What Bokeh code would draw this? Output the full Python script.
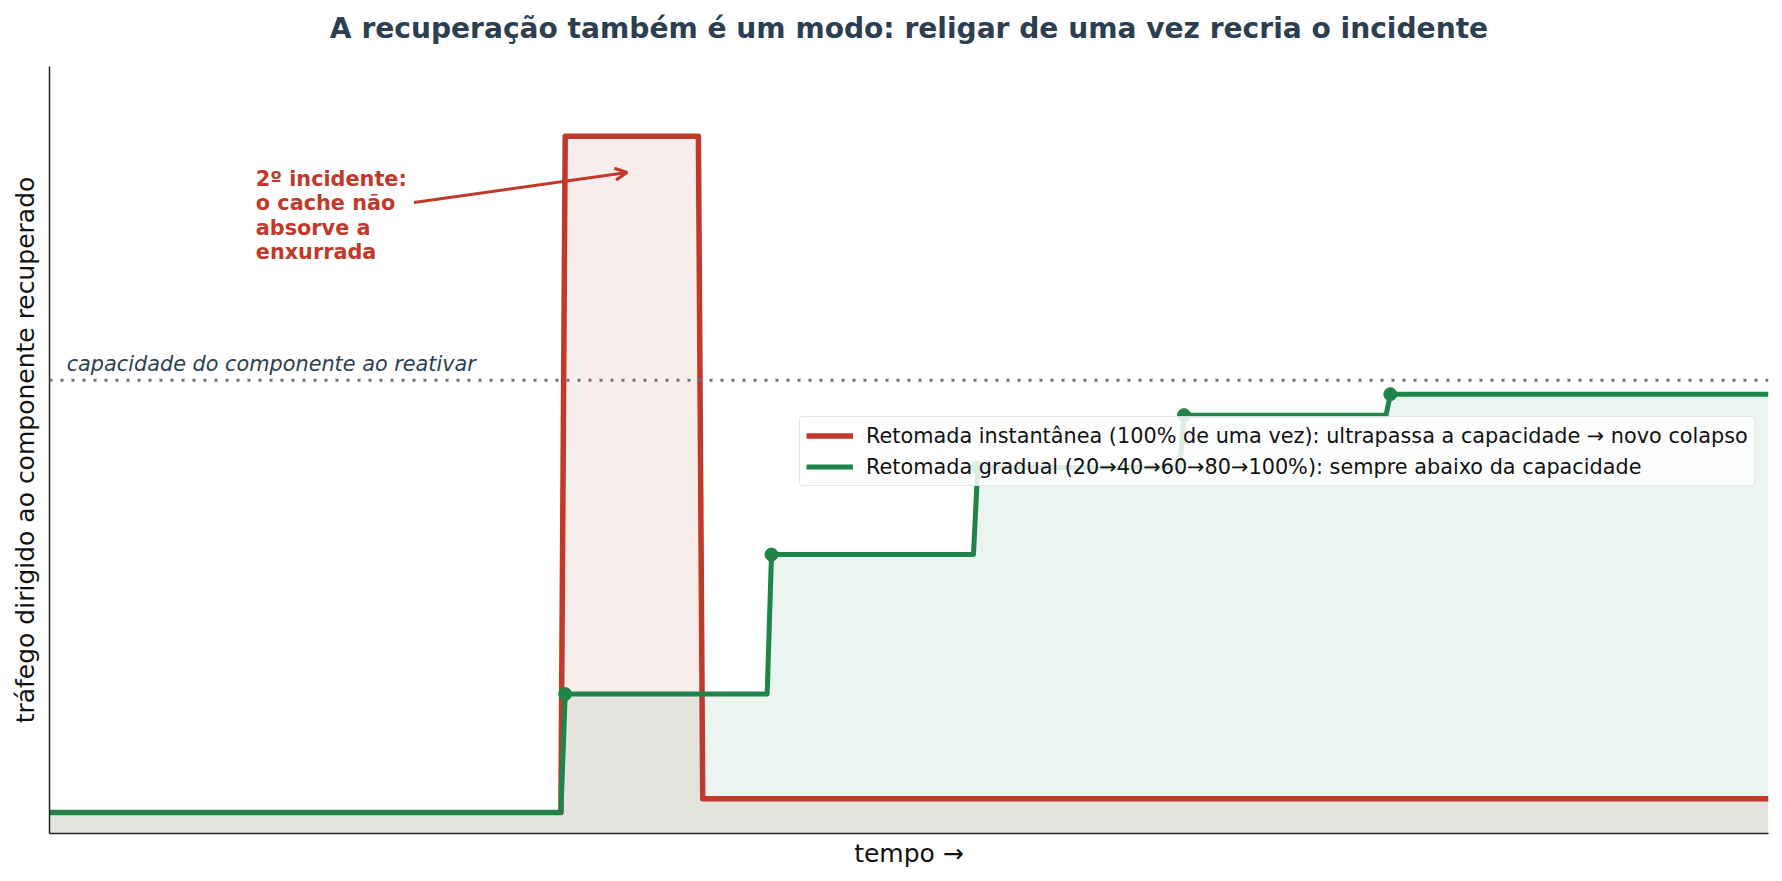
import numpy as np
from bokeh.plotting import figure
from bokeh.models import (Range1d, Label, Arrow, OpenHead, Legend, LegendItem, Span,
                          FixedTicker, LinearAxis)
from bokeh.embed import file_html
from bokeh.resources import INLINE

# ---------------- data ----------------
T_END = 100
RED_TIMES = [0, 30, 38]
RED_LEVELS = [3, 100, 5]
GREEN_TIMES = [0, 30, 42, 54, 66, 78]
GREEN_LEVELS = [3, 20, 40, 52.5, 60, 63]
CAPACITY = 65
SAMPLE_STEP = 0.25

TITLE = "A recuperação também é um modo: religar de uma vez recria o incidente"
XLABEL = "tempo →"
YLABEL = "tráfego dirigido ao componente recuperado"
CAP_LABEL = "capacidade do componente ao reativar"
RED_LABEL = "Retomada instantânea (100% de uma vez): ultrapassa a capacidade → novo colapso"
GREEN_LABEL = "Retomada gradual (20→40→60→80→100%): sempre abaixo da capacidade"
ANNOT_TEXT = "2º incidente:\no cache não\nabsorve a\nenxurrada"
ANNOT_TEXT_XY = (12, 88.6)
ANNOT_FROM = (21.2, 90.5)
ANNOT_TO = (33.6, 94.8)

RED = "#c0392b"
GREEN = "#1e8449"
DARK = "#2c3e50"
FONT = "DejaVu Sans"


def step_vertices(times, levels, t_end, dt):
    xs = [times[0]]
    ys = [levels[0]]
    for i in range(1, len(times)):
        xs += [times[i] - dt, times[i]]
        ys += [levels[i - 1], levels[i]]
    xs.append(t_end)
    ys.append(levels[-1])
    return xs, ys


rx, ry = step_vertices(RED_TIMES, RED_LEVELS, T_END, SAMPLE_STEP)
gx, gy = step_vertices(GREEN_TIMES, GREEN_LEVELS, T_END, SAMPLE_STEP)

p = figure(width=1782, height=881, output_backend="svg", toolbar_location=None, title=None,
           x_range=Range1d(0, T_END), y_range=Range1d(0, 110),
           min_border_left=49, min_border_right=14, min_border_top=66, min_border_bottom=48)
p.outline_line_color = None
p.grid.visible = False
p.background_fill_color = "white"

bottom_axis = p.below[0]
left_axis = p.left[0]

# title drawn as the label of an invisible axis above the frame
top_axis = LinearAxis(axis_label=TITLE)
p.add_layout(top_axis, "above")

for ax in (bottom_axis, left_axis, top_axis):
    ax.ticker = FixedTicker(ticks=[])
    ax.major_label_text_font_size = "0px"
    ax.major_tick_line_color = None
    ax.minor_tick_line_color = None
    ax.major_tick_out = 0
    ax.major_tick_in = 0
    ax.minor_tick_out = 0
    ax.minor_tick_in = 0
    ax.major_label_standoff = 0
    ax.axis_line_width = 1.5
    ax.axis_line_color = "#222222"
    ax.axis_label_text_font = FONT
    ax.axis_label_text_font_size = "25px"
    ax.axis_label_text_font_style = "normal"
    ax.axis_label_text_color = "#111111"

top_axis.axis_line_color = None
top_axis.axis_label_text_font_style = "bold"
top_axis.axis_label_text_font_size = "28.1px"
top_axis.axis_label_text_color = DARK
top_axis.axis_label_standoff = 22

bottom_axis.axis_label = XLABEL
left_axis.axis_label = YLABEL
bottom_axis.axis_label_standoff = 5
left_axis.axis_label_standoff = 10

# fills
p.varea(x=rx, y1=0, y2=ry, fill_color=RED, fill_alpha=0.09)
p.varea(x=gx, y1=0, y2=gy, fill_color=GREEN, fill_alpha=0.09)

# capacity line
cap = Span(location=CAPACITY, dimension="width", line_color="#6b7480", line_width=3,
           line_dash="3 8")
p.add_layout(cap)

r_red = p.line(rx, ry, line_color=RED, line_width=5.5, line_join="round")
r_green = p.line(gx, gy, line_color=GREEN, line_width=5, line_join="round")
p.scatter(GREEN_TIMES[1:], GREEN_LEVELS[1:], size=13, color=GREEN)

legend = Legend(items=[LegendItem(label=RED_LABEL, renderers=[r_red]),
                       LegendItem(label=GREEN_LABEL, renderers=[r_green])],
                location=(750, 347), label_text_font=FONT, label_text_font_size="20.8px",
                label_text_color="#111111",
                glyph_width=47, glyph_height=25, label_height=25, label_standoff=13,
                spacing=6, padding=6, margin=0,
                border_line_color="#cccccc", border_line_width=1.5,
                background_fill_alpha=0.85, border_radius=4)
p.add_layout(legend, "center")

p.add_layout(Label(x=1, y=65.55, text=CAP_LABEL, text_font=FONT, text_font_style="italic",
                   text_font_size="20.8px", text_color=DARK, text_baseline="bottom"))

p.add_layout(Label(x=ANNOT_TEXT_XY[0], y=ANNOT_TEXT_XY[1], text=ANNOT_TEXT, text_font=FONT,
                   text_font_style="bold", text_font_size="20.8px", text_color=RED,
                   text_baseline="middle", text_align="left", text_line_height=1.02))
p.add_layout(Arrow(x_start=ANNOT_FROM[0], y_start=ANNOT_FROM[1], x_end=ANNOT_TO[0], y_end=ANNOT_TO[1],
                   line_color=RED, line_width=3,
                   end=OpenHead(size=12, line_color=RED, line_width=3)))

open("out.html", "w").write(file_html(p, INLINE))
